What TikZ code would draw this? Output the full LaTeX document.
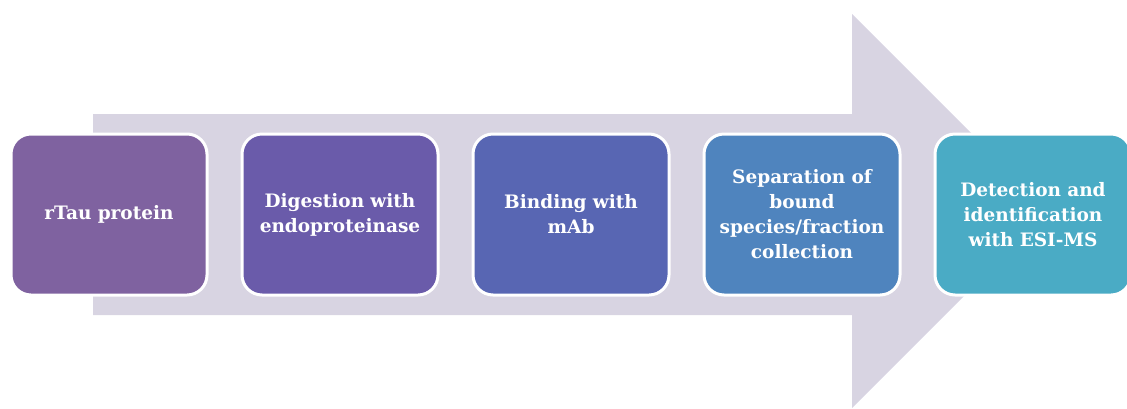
\documentclass[tikz,border=0pt]{standalone}
\usepackage{fontspec}
\setmainfont{DejaVu Serif}
\definecolor{arrowbg}{HTML}{D8D4E2}
\definecolor{stepA}{HTML}{7F62A0}
\definecolor{stepB}{HTML}{6A5BAA}
\definecolor{stepC}{HTML}{5866B3}
\definecolor{stepD}{HTML}{4F84BE}
\definecolor{stepE}{HTML}{4AABC5}
\tikzset{
  stepbox/.style={draw=white, line width=3pt, rounded corners=20pt,
    minimum width=196pt, minimum height=161pt, inner sep=4pt,
    text width=180pt, align=center, text=white,
    font=\bfseries\fontsize{18.5}{25}\selectfont}
}
\begin{document}
\begin{tikzpicture}[x=1pt, y=-1pt]
  \useasboundingbox (0,0) rectangle (1127,408);
  \clip (0,0) rectangle (1127,408);
  % big background arrow
  \fill[arrowbg] (93,114) -- (852,114) -- (852,14) -- (1049,211)
    -- (852,408) -- (852,315) -- (93,315) -- cycle;
  % process steps
  \node[stepbox, fill=stepA] (s1) at (109,214.5) {rTau protein};
  \node[stepbox, fill=stepB] (s2) at (340,214.5) {Digestion with\\endoproteinase};
  \node[stepbox, fill=stepC] (s3) at (571,214.5) {Binding with\\mAb};
  \node[stepbox, fill=stepD] (s4) at (802,214.5) {Separation of\\bound\\species/fraction\\collection};
  \node[stepbox, fill=stepE] (s5) at (1033,214.5) {Detection and\\identification\\with ESI-MS};
\end{tikzpicture}
\end{document}
